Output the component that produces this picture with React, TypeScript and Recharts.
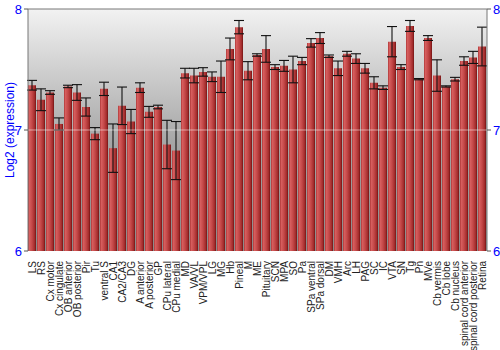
import { BarChart, Bar, XAxis, YAxis, CartesianGrid, ErrorBar, ReferenceLine } from "recharts";

const regions = [
  "LS", "RS", "Cx motor", "Cx cingulate", "OB anterior", "OB posterior", "Pir", "Tu",
  "ventral S", "CA1", "CA2/CA3", "DG", "A anterior", "A posterior", "GP", "CPu lateral",
  "CPu medial", "MD", "VA/VL", "VPM/VPL", "LG", "MG", "Hb", "Pineal", "M", "ME",
  "Pituitary", "SCN", "MPA", "SO", "Pa", "SPa ventral", "SPa dorsal", "DM", "VMH", "Arc",
  "LH", "PAG", "SC", "IC", "VTA", "SN", "Tg", "Pn", "MVe", "Cb vermis", "Cb lobe",
  "Cb nucleus", "spinal cord anterior", "spinal cord posterior", "Retina",
];

const expression = [
  7.37, 7.25, 7.31, 7.05, 7.36, 7.31, 7.19, 6.97,
  7.34, 6.85, 7.2, 7.07, 7.35, 7.15, 7.19, 6.88,
  6.83, 7.47, 7.45, 7.48, 7.44, 7.44, 7.67, 7.85, 7.49, 7.62,
  7.67, 7.52, 7.53, 7.5, 7.57, 7.72, 7.76, 7.61, 7.51, 7.63,
  7.59, 7.51, 7.39, 7.35, 7.73, 7.52, 7.86, 7.42, 7.76, 7.45, 7.36,
  7.42, 7.57, 7.6, 7.69,
];

const stdErr = [
  0.04, 0.09, 0.015, 0.05, 0.01, 0.065, 0.075, 0.05,
  0.055, 0.2, 0.155, 0.1, 0.04, 0.045, 0.015, 0.2,
  0.24, 0.04, 0.06, 0.035, 0.04, 0.13, 0.09, 0.055, 0.075, 0.01,
  0.11, 0.02, 0.045, 0.11, 0.03, 0.035, 0.045, 0.01, 0.06, 0.02,
  0.04, 0.04, 0.05, 0.015, 0.125, 0.02, 0.045, 0.005, 0.02, 0.13, 0.005,
  0.015, 0.035, 0.05, 0.16,
];

const yTicks = [6, 7, 8];

const data = regions.map((region, i) => ({
  region,
  value: expression[i],
  err: stdErr[i],
}));

const RegionTick = ({ x, y, payload }: any) => (
  <text
    x={0}
    y={0}
    transform={`translate(${x + 3.5},${y + 2}) rotate(-90)`}
    textAnchor="end"
    fontSize={10}
    fill="#222"
    fontFamily="Liberation Sans, Arial, sans-serif"
  >
    {payload.value}
  </text>
);

const AxisTitle = ({ viewBox }: any) => {
  const cy = viewBox.y + viewBox.height / 2;
  return (
    <text
      x={14}
      y={cy}
      transform={`rotate(-90, 14, ${cy})`}
      textAnchor="middle"
      fontSize={12}
      fill="#0000ff"
      fontFamily="Liberation Sans, Arial, sans-serif"
    >
      Log2 (expression)
    </text>
  );
};

const tickStyle = { fontSize: 13, fill: "#0000ff", fontFamily: "Liberation Sans, Arial, sans-serif" };

export default function App() {
  return (
    <div style={{ position: "absolute", left: 0, top: 0, width: 500, height: 350, background: "#fff" }}>
      <BarChart
        width={500}
        height={350}
        data={data}
        margin={{ top: 9, right: 0, left: 0, bottom: 0 }}
        barGap={0}
      >
        <defs>
          <linearGradient id="bgGrad" x1="0" y1="0" x2="0" y2="1">
            <stop offset="0%" stopColor="#f2f2f2" />
            <stop offset="55%" stopColor="#a6a6a6" />
            <stop offset="100%" stopColor="#8a8a8a" />
          </linearGradient>
          <linearGradient id="barGrad" x1="0" y1="0" x2="1" y2="0">
            <stop offset="0%" stopColor="#a83030" />
            <stop offset="15%" stopColor="#d86060" />
            <stop offset="50%" stopColor="#c44848" />
            <stop offset="85%" stopColor="#a02a2a" />
            <stop offset="100%" stopColor="#701212" />
          </linearGradient>
        </defs>
        <CartesianGrid fill="url(#bgGrad)" horizontal={false} vertical={false} />
        <XAxis
          dataKey="region"
          interval={0}
          height={99}
          tick={<RegionTick />}
          tickLine={false}
          axisLine={false}
        />
        <YAxis
          yAxisId="left"
          domain={[6, 8]}
          ticks={yTicks}
          width={28}
          tick={tickStyle}
          tickLine={{ stroke: "#555" }}
          tickSize={4}
          axisLine={{ stroke: "#777" }}
          label={<AxisTitle />}
        />
        <YAxis
          yAxisId="right"
          orientation="right"
          domain={[6, 8]}
          ticks={yTicks}
          width={13}
          tick={tickStyle}
          tickLine={{ stroke: "#555" }}
          tickSize={4}
          axisLine={{ stroke: "#777" }}
        />
        <Bar yAxisId="left" dataKey="value" fill="url(#barGrad)" barSize={8} isAnimationActive={false}>
          <ErrorBar dataKey="err" width={5} stroke="#111" strokeWidth={1.1} />
        </Bar>
        <Bar yAxisId="right" dataKey="value" fill="none" barSize={0.01} isAnimationActive={false} />
        <ReferenceLine yAxisId="left" y={7} stroke="#ffffff" strokeOpacity={0.5} />
        <ReferenceLine yAxisId="left" y={8} stroke="#777" />
      </BarChart>
    </div>
  );
}
